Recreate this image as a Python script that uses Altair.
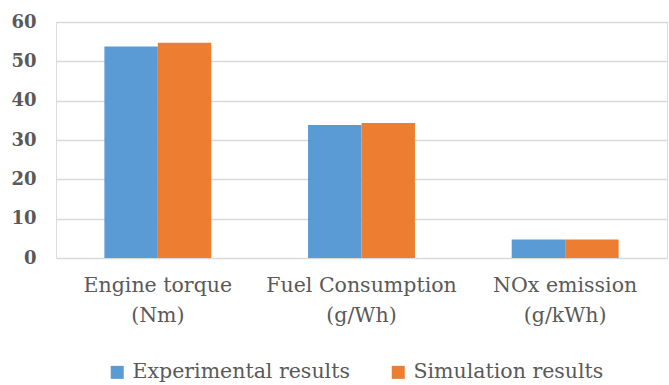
import altair as alt
import pandas as pd

categories = ["Engine torque (Nm)", "Fuel Consumption (g/Wh)", "NOx emission (g/kWh)"]
series = ["Experimental results", "Simulation results"]
experimental = [53.8, 33.8, 4.7]
simulation = [54.7, 34.3, 4.7]
colors = ["#5b9bd5", "#ed7d31"]

rows = []
for c, e, s in zip(categories, experimental, simulation):
    rows.append({"category": c, "series": series[0], "value": e})
    rows.append({"category": c, "series": series[1], "value": s})
df = pd.DataFrame(rows)

FONT = "DejaVu Serif"
TXT = "#595959"

label_expr = ("[slice(datum.label, 0, indexof(datum.label, ' (')), "
              "slice(datum.label, indexof(datum.label, ' (') + 1)]")

chart = alt.Chart(df).mark_bar().encode(
    x=alt.X("category:N", sort=categories, title=None,
            scale=alt.Scale(paddingInner=0.475, paddingOuter=0.2375),
            axis=alt.Axis(labelAngle=0, labelFont=FONT, labelFontSize=20.5,
                          labelColor=TXT, labelLineHeight=30, labelPadding=17,
                          labelLimit=0, ticks=False, domain=False, grid=False,
                          labelExpr=label_expr)),
    xOffset=alt.XOffset("series:N", sort=series, scale=alt.Scale(paddingInner=0, paddingOuter=0)),
    y=alt.Y("value:Q", title=None,
            scale=alt.Scale(domain=[0, 60]),
            axis=alt.Axis(values=[0, 10, 20, 30, 40, 50, 60], labelFont=FONT,
                          labelFontSize=18, labelFontWeight="bold", labelColor=TXT,
                          labelPadding=20, ticks=False, domain=False,
                          grid=True, gridColor="#d9d9d9", gridWidth=1.5)),
    color=alt.Color("series:N", sort=series,
                    scale=alt.Scale(domain=series, range=colors),
                    legend=alt.Legend(title=None, orient="none", direction="horizontal",
                                      legendX=51, legendY=340, symbolType="square",
                                      symbolSize=169, symbolStrokeWidth=0,
                                      labelFont=FONT, labelFontSize=20.5, labelColor=TXT,
                                      labelLimit=0, labelOffset=5, columnPadding=38, padding=0)),
).properties(
    width=611, height=236,
    autosize=alt.AutoSizeParams(type="none"),
    padding={"left": 56, "top": 22, "right": 2, "bottom": 127},
).configure_view(stroke=None).configure(background="white", font=FONT)

chart.save("out.html", embed_options={"renderer": "svg", "actions": False})
